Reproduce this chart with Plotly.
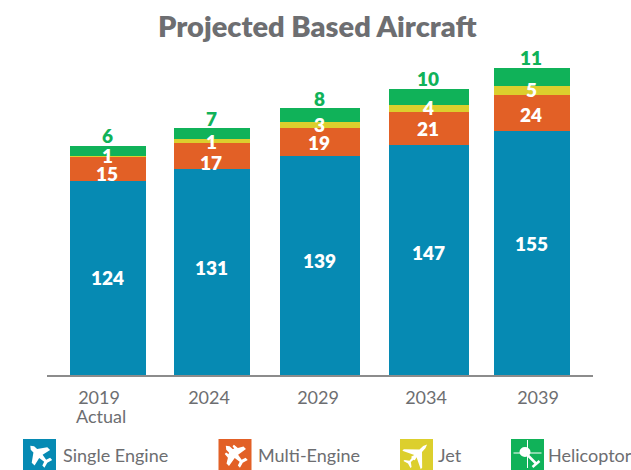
import math
import plotly.graph_objects as go

W, H = 631, 470
BASE_Y = 375
PX_PER_UNIT = 1.572

categories = ["2019", "2024", "2029", "2034", "2039"]
single_engine = [124, 131, 139, 147, 155]
multi_engine = [15, 17, 19, 21, 24]
jet = [1, 1, 3, 4, 5]
helicopter = [6, 7, 8, 10, 11]

# Drawn heights differ slightly from printed labels in the source chart
single_height = [123.4, 131, 139.3, 146.3, 155.2]
multi_height = [15.3, 16.5, 17.8, 21, 22.9]
jet_height = [0.7, 2.5, 3.8, 4.5, 5.7]
heli_height = [6.4, 7, 8.9, 10.2, 11.5]

bar_center = [108, 212, 320, 429, 532]
bar_width = [76, 76, 80, 80, 76]
tick_pos = [99, 209, 318, 426, 538]

BLUE, ORANGE, YELLOW, GREEN = "#068ab3", "#e26026", "#dccf2d", "#10b259"
GRAY = "#6d6e71"
FONT = "Lato"

fig = go.Figure()
for name, h, c in [("Single Engine", single_height, BLUE), ("Multi-Engine", multi_height, ORANGE),
                   ("Jet", jet_height, YELLOW), ("Helicopter", heli_height, GREEN)]:
    fig.add_bar(x=bar_center, y=h, width=bar_width, name=name, marker=dict(color=c, line_width=0), showlegend=False)

annotations = []
multi_shift = [-5, -6, 0, 0, -1]
single_shift = [1, 5, 5, 8, 10]
jet_shift = [1, 0, 1, 1, 1]
for i, cx in enumerate(bar_center):
    b0 = 0
    for vals, hs, shifts in [(single_engine, single_height, single_shift), (multi_engine, multi_height, multi_shift), (jet, jet_height, jet_shift)]:
        annotations.append(dict(x=cx, y=b0 + hs[i] / 2, xshift=-1, yshift=shifts[i], text=str(vals[i]), showarrow=False,
                                yanchor="middle", font=dict(family=FONT, size=19, color="white", weight=800)))
        b0 += hs[i]
    annotations.append(dict(x=cx, y=b0 + heli_height[i], xshift=-1, yshift=10, text=str(helicopter[i]), showarrow=False,
                            yanchor="middle", font=dict(family=FONT, size=19, color=GREEN, weight=800)))

def px(x): return x / W
def py(y): return 1 - y / H

annotations.append(dict(xref="paper", yref="paper", x=px(317), y=py(26), xanchor="center", yanchor="middle",
                        text="Projected Based Aircraft", showarrow=False,
                        font=dict(family=FONT, size=29, color=GRAY, weight=800)))
annotations.append(dict(xref="paper", yref="paper", x=px(101), y=py(416), xanchor="center", yanchor="middle",
                        text="Actual", showarrow=False, font=dict(family=FONT, size=18, color=GRAY)))

legend = [("Single Engine", 23, 61, BLUE), ("Multi-Engine", 218.5, 256, ORANGE),
          ("Jet", 400, 436, YELLOW), ("Helicoptor", 511, 546, GREEN)]
shapes = []

def path(points):
    return "M " + " L ".join(f"{px(x):.5f},{py(y):.5f}" for x, y in points) + " Z"

PLANE = [(0, -13), (2.4, -10), (2.6, -6), (11, 0), (11, 4), (2.4, 2), (1.4, 8), (5.5, 9.5), (5.5, 12.5), (0, 11),
         (-5.5, 12.5), (-5.5, 9.5), (-1.4, 8), (-2.4, 2), (-11, 4), (-11, 0), (-2.6, -6), (-2.4, -10)]
TWIN = [(0, -13), (2.4, -10), (2.6, -6), (4, -5), (4.5, -8), (6.5, -8), (7, -3), (12, 0), (12, 3.5), (2.4, 2), (1.4, 8), (5.5, 9.5), (5.5, 12.5), (0, 11),
        (-5.5, 12.5), (-5.5, 9.5), (-1.4, 8), (-2.4, 2), (-12, 3.5), (-12, 0), (-7, -3), (-6.5, -8), (-4.5, -8), (-4, -5), (-2.6, -6), (-2.4, -10)]
JET = [(0, -15), (1.6, -11), (1.8, -6), (13, 5), (13, 7), (1.6, 1.5), (2.6, 5), (1.2, 5.5), (1, 9), (5, 12), (5, 13.5), (0, 12),
       (-5, 13.5), (-5, 12), (-1, 9), (-1.2, 5.5), (-2.6, 5), (-1.6, 1.5), (-13, 7), (-13, 5), (-1.8, -6), (-1.6, -11)]
ICONS = {"Single Engine": (PLANE, -45), "Multi-Engine": (TWIN, -45), "Jet": (JET, 45)}

def rot(points, cx, cy, deg):
    a = math.radians(deg)
    return [(cx + x * math.cos(a) - y * math.sin(a), cy + x * math.sin(a) + y * math.cos(a)) for x, y in points]

for name, sq, tx, col in legend:
    shapes.append(dict(type="rect", xref="paper", yref="paper", x0=px(sq), x1=px(sq + 33), y0=py(439), y1=py(472),
                       fillcolor=col, line=dict(width=0), layer="above"))
    annotations.append(dict(xref="paper", yref="paper", x=px(tx), y=py(455), xanchor="left", yanchor="middle", text=name,
                            showarrow=False, font=dict(family=FONT, size=18, color=GRAY)))
    cx, cy = sq + 16.5, 455
    if name in ICONS:
        pts, ang = ICONS[name]
        shapes.append(dict(type="path", xref="paper", yref="paper", path=path(rot(pts, cx, cy, ang)),
                           fillcolor="white", line=dict(width=0), layer="above"))
    else:
        # body, rotor cross, tail boom and fin of the helicopter icon
        shapes.append(dict(type="circle", xref="paper", yref="paper", x0=px(cx - 8), x1=px(cx + 3), y0=py(cy - 8), y1=py(cy + 2),
                           fillcolor="white", line=dict(width=0), layer="above"))
        for a, b, c, d, w in [(-14, -2, 14, -2, 1), (0, -15, 0, 13, 1), (0, 0, 9, 9, 2.5), (5, 12, 12, 6, 2.5)]:
            shapes.append(dict(type="line", xref="paper", yref="paper", x0=px(cx + a), x1=px(cx + c), y0=py(cy + b), y1=py(cy + d),
                               line=dict(color="white", width=w), layer="above"))

fig.update_layout(
    width=W, height=H, margin=dict(l=0, r=0, t=0, b=0), barmode="stack", bargap=0,
    paper_bgcolor="white", plot_bgcolor="white", annotations=annotations, shapes=shapes,
    xaxis=dict(domain=[47 / W, 593 / W], range=[47, 593], tickmode="array", tickvals=tick_pos, ticktext=categories,
               showgrid=False, zeroline=False, showline=True, linecolor="#8c8c8c", linewidth=2, ticks="",
               tickfont=dict(family=FONT, size=18, color=GRAY), ticklabelstandoff=5),
    yaxis=dict(domain=[(H - BASE_Y) / H, 1], range=[0, BASE_Y / PX_PER_UNIT], visible=False),
)
fig.write_html("out.html", config=dict(displayModeBar=False),
               post_script="document.body.style.margin='0';document.body.style.overflow='hidden';")
